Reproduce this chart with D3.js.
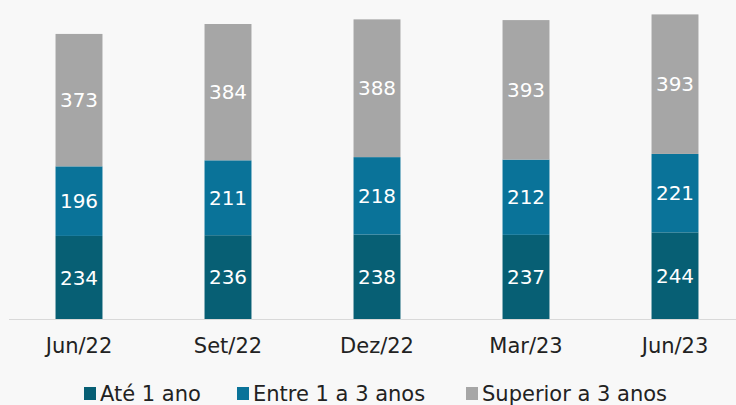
<!DOCTYPE html>
<html>
<head>
<meta charset="utf-8">
<script src="https://cdn.jsdelivr.net/npm/d3@7"></script>
<style>
  body { margin: 0; background: #f8f8f8; }
  svg { display: block; font-family: "DejaVu Sans", sans-serif; }
</style>
</head>
<body>
<svg id="chart"></svg>
<script>
const periods = ["Jun/22", "Set/22", "Dez/22", "Mar/23", "Jun/23"];
const ate1 = [234, 236, 238, 237, 244];
const entre1e3 = [196, 211, 218, 212, 221];
const superior3 = [373, 384, 388, 393, 393];
const seriesNames = ["Até 1 ano", "Entre 1 a 3 anos", "Superior a 3 anos"];
const colors = ["#075f74", "#0a7399", "#a6a6a6"];

const width = 736, height = 405;
const svg = d3.select("#chart").attr("width", width).attr("height", height);

const rows = periods.map((p, i) => ({ period: p, s0: ate1[i], s1: entre1e3[i], s2: superior3[i] }));
const stack = d3.stack().keys(["s0", "s1", "s2"])(rows);

const x = d3.scaleBand()
    .domain(periods)
    .range([4.5, 749.5])
    .paddingInner(0.685)
    .paddingOuter(0.3425);

const y = d3.scaleLinear()
    .domain([0, 900])
    .range([319, -0.5]);

// baseline
svg.append("line")
    .attr("x1", 9).attr("x2", width)
    .attr("y1", y(0) + 0.5).attr("y2", y(0) + 0.5)
    .attr("stroke", "#d9d9d9")
    .attr("stroke-width", 1);

const layers = svg.selectAll(".layer")
    .data(stack)
    .enter()
    .append("g")
    .attr("fill", (d, i) => colors[i]);

layers.selectAll("rect")
    .data(d => d)
    .enter()
    .append("rect")
    .attr("x", d => x(d.data.period))
    .attr("y", d => y(d[1]))
    .attr("width", x.bandwidth())
    .attr("height", d => y(d[0]) - y(d[1]));

layers.selectAll("text")
    .data(d => d)
    .enter()
    .append("text")
    .attr("x", d => x(d.data.period) + x.bandwidth() / 2)
    .attr("y", d => (y(d[0]) + y(d[1])) / 2)
    .attr("dy", "0.36em")
    .attr("text-anchor", "middle")
    .attr("fill", "#fff")
    .style("font-size", "20px")
    .text(d => d[1] - d[0]);

// x axis labels
svg.append("g")
    .attr("transform", `translate(0, ${y(0)})`)
    .call(d3.axisBottom(x).tickSize(0).tickPadding(19))
    .call(g => g.select(".domain").remove())
    .selectAll("text")
    .attr("fill", "#222")
    .style("font-family", "DejaVu Sans, sans-serif")
    .style("font-size", "21px");

// legend
const legendX = [84, 237, 466];
const legend = svg.selectAll(".legend")
    .data(seriesNames)
    .enter()
    .append("g")
    .attr("transform", (d, i) => `translate(${legendX[i]}, 387)`);

legend.append("rect")
    .attr("width", 12).attr("height", 13)
    .attr("fill", (d, i) => colors[i]);

legend.append("text")
    .attr("x", 16)
    .attr("y", 13.5)
    .attr("fill", "#222")
    .style("font-size", "21px")
    .text(d => d);
</script>
</body>
</html>
